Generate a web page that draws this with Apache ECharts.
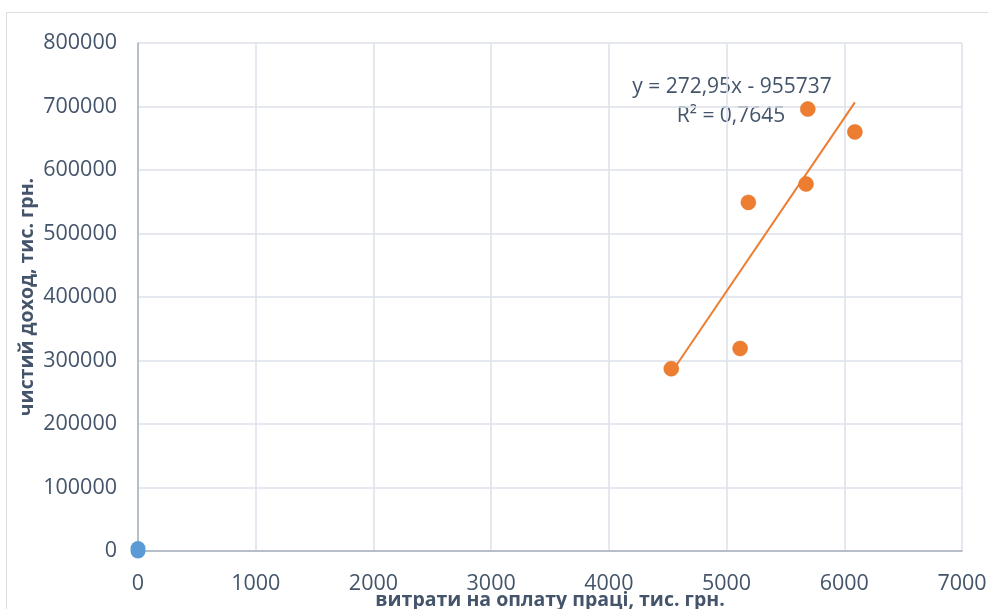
<!DOCTYPE html>
<html><head><meta charset="utf-8">
<script src="https://cdn.jsdelivr.net/npm/echarts@6/dist/echarts.min.js"></script>
<style>html,body{margin:0;padding:0;background:#fff}#c{width:988px;height:609px}</style>
</head><body><div id="c"></div>
<script>
const xTicks = [0,1000,2000,3000,4000,5000,6000,7000];
const yTicks = [0,100000,200000,300000,400000,500000,600000,700000,800000];
const orangeX = [4530, 5115, 5185, 5675, 5690, 6090];
const orangeY = [287000, 319000, 549000, 578000, 696000, 660000];
const blueX = [0, 0];
const blueY = [0, 4000];
const trendSlope = 272.95;
const trendIntercept = -955737;
const eqLine1 = 'y = 272,95x - 955737';
const eqLine2 = 'R² = 0,7645';
const xTitle = 'витрати на оплату праці, тис. грн.';
const yTitle = 'чистий доход, тис. грн.';

const orangeData = orangeX.map((x,i)=>[x, orangeY[i]]);
const blueData = blueX.map((x,i)=>[x, blueY[i]]);
const xMinT = Math.min(...orangeX), xMaxT = Math.max(...orangeX);
const trendData = [[xMinT, trendSlope*xMinT+trendIntercept],[xMaxT, trendSlope*xMaxT+trendIntercept]];

const textColor = '#44546A';
const chart = echarts.init(document.getElementById('c'));
chart.setOption({
  animation:false,
  backgroundColor:'#fff',
  textStyle:{fontFamily:'Open Sans'},
  grid:{left:138, right:26, top:43, bottom:58, containLabel:false, outerBoundsMode:'none'},
  xAxis:{type:'value', min:0, max:7000, interval:1000,
    axisLine:{show:true, onZero:true, lineStyle:{color:'#A6B0BF', width:1.5}},
    axisTick:{show:false},
    splitLine:{show:true, lineStyle:{color:'#DDE2EA', width:1.5}},
    axisLabel:{color:textColor, fontSize:21.5, margin:22, fontFamily:'Open Sans', formatter:v=>String(v)},
    name:xTitle, nameLocation:'middle', nameGap:39, nameMoveOverlap:false,
    nameTextStyle:{color:textColor, fontSize:19.5, fontWeight:'bold', fontFamily:'Open Sans'}
  },
  yAxis:{type:'value', min:0, max:800000, interval:100000,
    axisLine:{show:true, lineStyle:{color:'#A6B0BF', width:1.5}},
    axisTick:{show:false},
    splitLine:{show:true, lineStyle:{color:'#DDE2EA', width:1.5}},
    axisLabel:{color:textColor, fontSize:21.5, margin:21, fontFamily:'Open Sans', formatter:v=>String(v)},
    name:yTitle, nameLocation:'middle', nameGap:101, nameRotate:90, nameMoveOverlap:false,
    nameTextStyle:{color:textColor, fontSize:19.5, fontWeight:'bold', fontFamily:'Open Sans'}
  },
  graphic:[
    {type:'rect', shape:{x:6.5, y:12.5, width:1000, height:700}, style:{fill:'none', stroke:'#D9DEE5', lineWidth:1}, z:-1},
    {type:'text', x:732, y:87, style:{text:eqLine1, fill:textColor, font:'21px "Open Sans"', textAlign:'center', textVerticalAlign:'middle'}},
    {type:'text', x:731, y:116, style:{text:eqLine2, fill:textColor, font:'21px "Open Sans"', textAlign:'center', textVerticalAlign:'middle'}}
  ],
  series:[
    {type:'line', data:trendData, showSymbol:false, symbol:'none', lineStyle:{color:'#ED7D31', width:2}, z:2},
    {type:'scatter', data:orangeData, symbolSize:15, itemStyle:{color:'#ED7D31', borderColor:'#E0701F', borderWidth:0.5, opacity:1}, z:3},
    {type:'scatter', data:blueData, symbolSize:15, itemStyle:{color:'#5B9BD5', opacity:1}, z:3}
  ]
});
</script></body></html>
